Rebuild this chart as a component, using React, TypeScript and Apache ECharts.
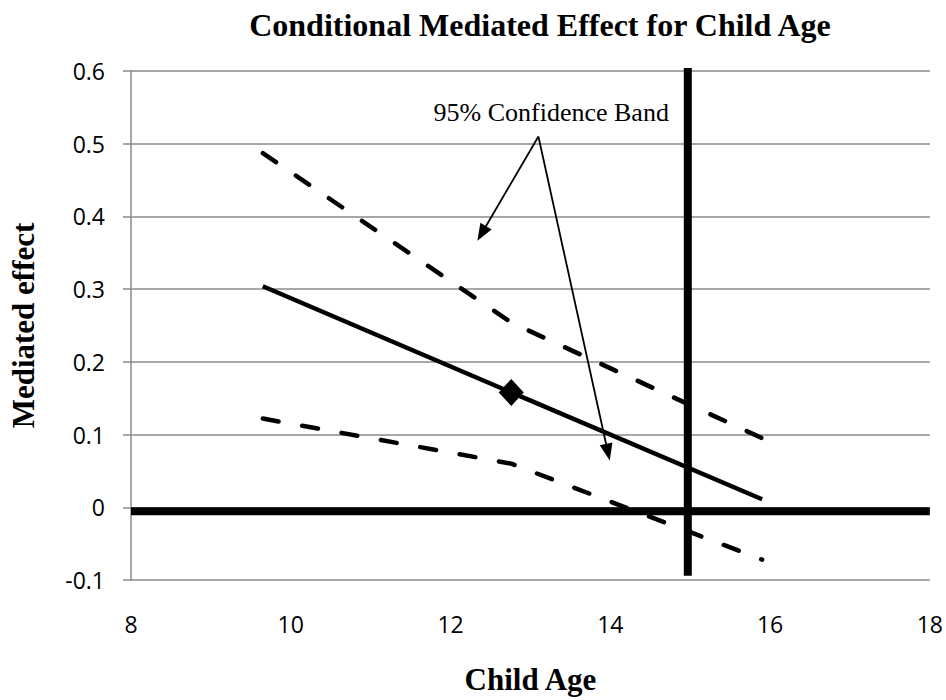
import React, { useEffect, useRef } from "react";
import * as echarts from "echarts";

// ---- data ----
const TITLE = "Conditional Mediated Effect for Child Age";
const X_NAME = "Child Age";
const Y_NAME = "Mediated effect";
const X_MIN = 8;
const X_MAX = 18;
const X_STEP = 2;
const Y_MIN = -0.1;
const Y_MAX = 0.6;
const Y_STEP = 0.1;

const ages = [9.65, 12.76, 15.9];
const effect = [0.304, 0.158, 0.011];
const upperCI = [0.487, 0.254, 0.095];
const lowerCI = [0.122, 0.06, -0.072];
const meanAgeIndex = 1;

const zeroLineX = [8, 18];
const zeroLineY = -0.0055;
const refAge = 14.97;
const refRangeY = [-0.094, 0.604];

const bandLabel = "95% Confidence Band";
const bandLabelPos = [13.26, 0.5435];
const arrowStart = [13.1, 0.51];
const arrowHeads = [
  [12.39, 0.3766],
  [13.97, 0.0757],
];

const SERIF = "Liberation Serif";
const SANS = "Open Sans";

export default function App() {
  const ref = useRef<HTMLDivElement>(null);
  useEffect(() => {
    document.body.style.margin = "0";
    const chart = echarts.init(ref.current!, null, { renderer: "svg" });
    const pair = (xs: number[], ys: number[]) => xs.map((x, i) => [x, ys[i]]);
    const dashed = {
      color: "#000",
      width: 4.5,
      type: [16, 24] as any,
      cap: "round" as const,
    };
    chart.setOption({
      animation: false,
      backgroundColor: "#fff",
      title: {
        text: TITLE,
        left: 535,
        top: 4,
        textAlign: "center",
        textStyle: { fontFamily: SERIF, fontWeight: "bold", fontSize: 32, color: "#000" },
      },
      grid: { left: 128, right: 16, top: 71, bottom: 116 },
      xAxis: {
        type: "value",
        min: X_MIN,
        max: X_MAX,
        interval: X_STEP,
        name: X_NAME,
        nameLocation: "middle",
        nameGap: 84,
        nameTextStyle: { fontFamily: SERIF, fontWeight: "bold", fontSize: 31, color: "#000" },
        axisLine: { show: false },
        axisTick: { show: false },
        splitLine: { show: false },
        axisLabel: { margin: 32, fontFamily: SANS, fontSize: 23, color: "#000" },
      },
      yAxis: {
        type: "value",
        min: Y_MIN,
        max: Y_MAX,
        interval: Y_STEP,
        name: Y_NAME,
        nameLocation: "middle",
        nameRotate: 90,
        nameGap: 92,
        nameTextStyle: { fontFamily: SERIF, fontWeight: "bold", fontSize: 31, color: "#000" },
        axisLine: { show: true, lineStyle: { color: "#8a8a8a", width: 1.5 } },
        axisTick: { show: true, inside: false, length: 8, lineStyle: { color: "#8a8a8a", width: 1.5 } },
        splitLine: { show: true, lineStyle: { color: "#8a8a8a", width: 1.5 } },
        axisLabel: { margin: 26, fontFamily: SANS, fontSize: 23, color: "#000" },
      },
      series: [
        {
          name: "Zero line",
          type: "line",
          data: zeroLineX.map((x) => [x, zeroLineY]),
          symbol: "none",
          lineStyle: { color: "#000", width: 8 },
          silent: true,
        },
        {
          name: "Reference age",
          type: "line",
          data: refRangeY.map((y) => [refAge, y]),
          symbol: "none",
          lineStyle: { color: "#000", width: 8 },
          silent: true,
        },
        {
          name: "Upper 95% CI",
          type: "line",
          data: pair(ages, upperCI),
          symbol: "none",
          lineStyle: dashed,
          markLine: {
            silent: true,
            animation: false,
            label: { show: false },
            lineStyle: { color: "#000", width: 1.8, type: "solid" },
            data: arrowHeads.map((h) => [
              { coord: arrowStart, symbol: "none" },
              { coord: h, symbol: "triangle", symbolSize: [13, 17] },
            ]),
          },
        },
        {
          name: "Lower 95% CI",
          type: "line",
          data: pair(ages, lowerCI),
          symbol: "none",
          lineStyle: dashed,
        },
        {
          name: "Mediated effect",
          type: "line",
          data: pair(ages, effect).map((v, i) =>
            i === meanAgeIndex
              ? { value: v, symbol: "diamond", symbolSize: [25, 27] }
              : { value: v, symbol: "none" }
          ),
          showAllSymbol: true,
          itemStyle: { color: "#000" },
          lineStyle: { color: "#000", width: 4.5 },
        },
      ],
    });
    const [lx, ly] = chart.convertToPixel({ gridIndex: 0 }, bandLabelPos) as number[];
    chart.setOption({
      graphic: [
        {
          type: "text",
          x: lx,
          y: ly,
          silent: true,
          style: {
            text: bandLabel,
            fontFamily: SERIF,
            fontSize: 26,
            fill: "#000",
            textAlign: "center",
            textVerticalAlign: "middle",
          },
        },
      ],
    });
    return () => chart.dispose();
  }, []);
  return (
    <div
      ref={ref}
      style={{ position: "absolute", left: 0, top: 0, width: 946, height: 700, background: "#fff" }}
    />
  );
}
